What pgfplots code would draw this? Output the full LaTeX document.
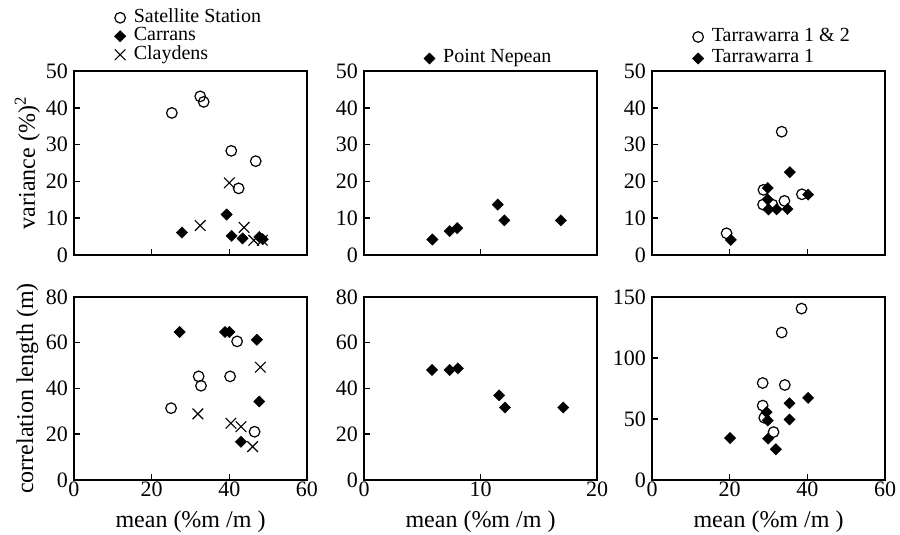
\documentclass[border=0pt]{standalone}
\usepackage{fontspec}
\setmainfont{Liberation Serif}
\usepackage{pgfplots}
\pgfplotsset{compat=1.18}
\newcommand{\fs}{\fontsize{22}{24}\selectfont}
\newcommand{\fg}{\fontsize{20}{22}\selectfont}
\newcommand{\fl}{\fontsize{24}{26}\selectfont}
\pgfplotsset{
  panel/.style={
    scale only axis, width=233pt,
    axis line style={line width=1.5pt},
    every tick/.style={line width=1.5pt, black},
    major tick length=6pt,
    tick pos=left, tick align=inside,
    ticklabel style={font=\fs},
    xticklabel style={inner sep=1.5pt},
    yticklabel style={inner sep=6pt},
    /pgf/number format/assume math mode=true,
    label style={font=\fl},
    clip=false,
    legend cell align=left,
    legend style={draw=none, fill=none, font=\fg,
      nodes={inner ysep=0pt, text height=13pt, text depth=4pt},
      /tikz/every odd column/.append style={column sep=6pt}},
  },
  toprow/.style={height=184pt, ymin=0, ymax=50, ytick={0,10,...,50}, xticklabels={}},
  botrow/.style={height=183pt},
  sat/.style={only marks, mark=o, mark size=5.3pt, mark options={line width=1.2pt, black}},
  dia/.style={only marks, mark=square*, mark size=4pt, mark options={rotate=45, fill=black, draw=black}},
  cla/.style={only marks, mark=x, mark size=7.5pt, mark options={line width=1.1pt, black}},
}
\begin{document}
\begin{tikzpicture}
\path[use as bounding box] (0pt,0pt) rectangle (900pt,535pt);
% ---------- top left
\begin{axis}[panel, toprow, at={(74pt,280pt)}, anchor=south west,
  xmin=0, xmax=60, xtick={0,20,40,60},
  ylabel={variance (\%)\textsuperscript{2}},
  ylabel style={at={(axis description cs:-0.2,0.5)}, anchor=center},
  legend style={at={(axis description cs:0.16,1.03)}, anchor=south west, row sep=1.5pt}]
\addplot[sat] coordinates {(25.2,38.6) (32.5,43.1) (33.4,41.6) (40.5,28.3) (46.8,25.5) (42.4,18.1)};
\addlegendentry{Satellite Station}
\addplot[dia] coordinates {(27.8,6.1) (39.3,11.0) (40.6,5.2) (43.4,4.5) (47.7,4.9) (48.6,4.3)};
\addlegendentry{Carrans}
\addplot[cla] coordinates {(32.5,8.0) (40.0,19.6) (43.8,7.5) (46.3,4.0) (48.5,4.0)};
\addlegendentry{Claydens}
\end{axis}
% ---------- top middle
\begin{axis}[panel, toprow, at={(364pt,280pt)}, anchor=south west,
  xmin=0, xmax=20, xtick={0,10,20},
  legend style={at={(axis description cs:0.535,1.01)}, anchor=south}]
\addplot[dia] coordinates {(5.87,4.2) (7.35,6.5) (8.0,7.3) (11.48,13.7) (12.05,9.4) (16.9,9.4)};
\addlegendentry{Point Nepean}
\end{axis}
% ---------- top right
\begin{axis}[panel, toprow, at={(652pt,280pt)}, anchor=south west,
  xmin=0, xmax=60, xtick={0,20,40,60},
  legend style={at={(axis description cs:0.16,1.01)}, anchor=south west, row sep=4.5pt}]
\addplot[sat] coordinates {(19.2,5.9) (33.4,33.5) (28.7,17.7) (28.6,13.7) (31.0,13.7) (34.1,14.7) (38.6,16.5)};
\addlegendentry{Tarrawarra 1 \& 2}
\addplot[dia] coordinates {(20.3,4.1) (29.8,18.2) (29.8,15.1) (30.0,12.4) (32.1,12.4) (34.9,12.5) (35.5,22.5) (40.2,16.4)};
\addlegendentry{Tarrawarra 1}
\end{axis}
% ---------- bottom left
\begin{axis}[panel, botrow, at={(74pt,55pt)}, anchor=south west,
  xmin=0, xmax=60, xtick={0,20,40,60},
  ymin=0, ymax=80, ytick={0,20,...,80},
  ylabel={correlation length (m)},
  ylabel style={at={(axis description cs:-0.2,0.5)}, anchor=center},
  xlabel={mean (\%m /m )},
  xlabel style={at={(axis description cs:0.5,-0.257)}, anchor=base}]
\addplot[sat] coordinates {(25.0,31.4) (32.1,45.3) (32.7,41.2) (40.2,45.3) (42.0,60.6) (46.5,21.1)};
\addplot[dia] coordinates {(27.2,64.7) (38.9,64.7) (40.0,64.7) (47.1,61.3) (47.7,34.3) (43.0,16.7)};
\addplot[cla] coordinates {(48.0,49.3) (31.9,28.9) (40.4,24.8) (43.0,23.3) (46.0,14.6)};
\end{axis}
% ---------- bottom middle
\begin{axis}[panel, botrow, at={(364pt,55pt)}, anchor=south west,
  xmin=0, xmax=20, xtick={0,10,20},
  ymin=0, ymax=80, ytick={0,20,...,80},
  xlabel={mean (\%m /m )},
  xlabel style={at={(axis description cs:0.5,-0.257)}, anchor=base}]
\addplot[dia] coordinates {(5.84,48.1) (7.35,48.1) (8.06,48.8) (11.6,37.0) (12.1,31.7) (17.1,31.7)};
\end{axis}
% ---------- bottom right
\begin{axis}[panel, botrow, at={(652pt,55pt)}, anchor=south west,
  xmin=0, xmax=60, xtick={0,20,40,60},
  ymin=0, ymax=150, ytick={0,50,100,150},
  xlabel={mean (\%m /m )},
  xlabel style={at={(axis description cs:0.5,-0.257)}, anchor=base}]
\addplot[sat] coordinates {(38.5,140.5) (33.4,120.9) (28.5,79.5) (34.2,77.9) (28.5,61.0) (28.9,51.0) (31.3,39.3)};
\addplot[dia] coordinates {(40.2,67.3) (35.4,62.9) (29.5,55.6) (29.8,48.8) (35.4,49.6) (20.1,34.4) (29.9,33.9) (31.9,25.2)};
\end{axis}
\end{tikzpicture}
\end{document}
